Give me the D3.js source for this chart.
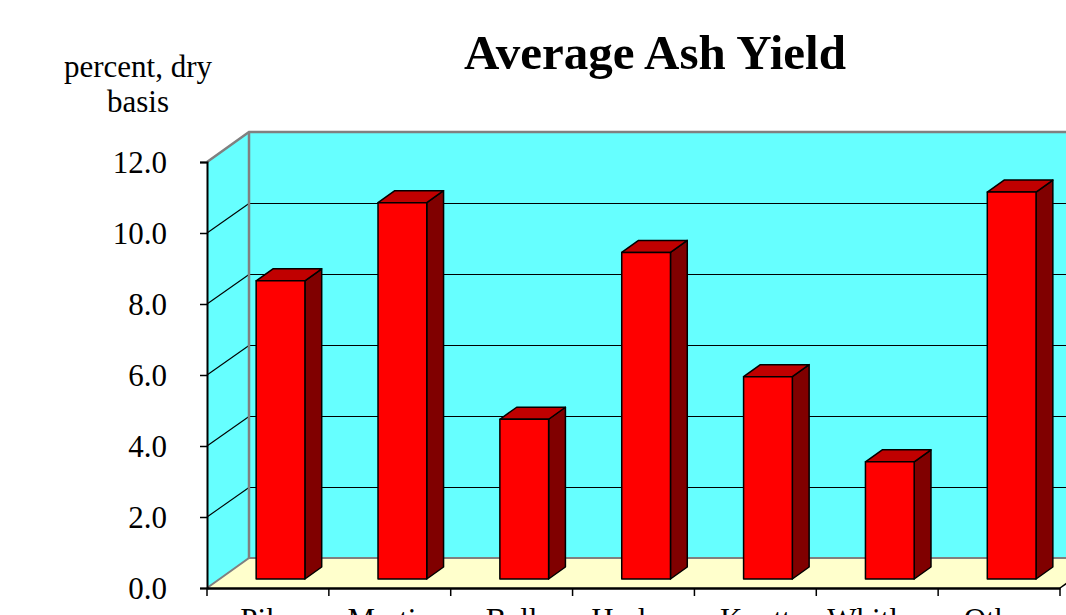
<!DOCTYPE html>
<html><head><meta charset="utf-8">
<script src="https://cdn.jsdelivr.net/npm/d3@7"></script>
<style>
html,body{margin:0;padding:0;background:#fff;overflow:hidden;}
svg text{font-family:"Liberation Serif","Times New Roman",serif;fill:#000;}
</style></head>
<body><svg id="c" width="1066" height="615"></svg>
<script>
const categories = ["Pike", "Martin", "Bell", "Harlan", "Knott", "Whitley", "Other"];
const ashYield = [8.4, 10.6, 4.5, 9.2, 5.7, 3.3, 10.9];
const yTicks = [0, 2, 4, 6, 8, 10, 12];
const titleText = "Average Ash Yield";
const yLabelLines = ["percent, dry", "basis"];

const svg = d3.select("#c");
const x = d3.scaleBand().domain(categories).range([207, 1060]).paddingInner(0).paddingOuter(0);
const y = d3.scaleLinear().domain([0, 12]).range([588, 162]);
const DX = 42, DY = -30; // full depth offset
const x0 = x.range()[0], x1 = x.range()[1];
const yb = y(0), yt = y(12);

// walls
svg.append("polygon").attr("points", [[x0, yt], [x0+DX, yt+DY], [x0+DX, yb+DY], [x0, yb]].join(" "))
  .attr("fill", "#66FFFF");
svg.append("polygon").attr("points", [[x0+DX, yt+DY], [1120, yt+DY], [1120, yb+DY], [x0+DX, yb+DY]].join(" "))
  .attr("fill", "#66FFFF");
svg.append("polygon").attr("points", [[x0, yb], [x0+DX, yb+DY], [x1+DX, yb+DY], [x1, yb]].join(" "))
  .attr("fill", "#FFFFCC");

// gridlines
const g = svg.append("g");
yTicks.filter(t => t > 0 && t < 12).forEach(t => {
  const yy = Math.round(y(t) + DY) + 0.5;
  g.append("line").attr("x1", x0).attr("y1", y(t)).attr("x2", x0+DX).attr("y2", yy)
    .attr("stroke", "#000").attr("stroke-width", 1.1);
  g.append("line").attr("x1", x0+DX).attr("y1", yy).attr("x2", 1120).attr("y2", yy)
    .attr("stroke", "#000").attr("stroke-width", 1).attr("shape-rendering", "crispEdges");
});

// gray edges
const edge = "#808080";
svg.append("polyline").attr("points", [[x0, yt], [x0+DX, yt+DY], [1120, yt+DY]].join(" "))
  .attr("fill", "none").attr("stroke", edge).attr("stroke-width", 2.5);
svg.append("polyline").attr("points", [[x0, yb], [x0+DX, yb+DY], [1120, yb+DY]].join(" "))
  .attr("fill", "none").attr("stroke", edge).attr("stroke-width", 2);
svg.append("line").attr("x1", x0+DX).attr("y1", yt+DY).attr("x2", x0+DX).attr("y2", yb+DY)
  .attr("stroke", edge).attr("stroke-width", 2.5);
svg.append("line").attr("x1", x1).attr("y1", yb).attr("x2", x1+DX).attr("y2", yb+DY)
  .attr("stroke", "#000").attr("stroke-width", 1.5);

// bars
const bw = x.bandwidth() * 0.4;
const zf = 0.3, zb = 0.7;
const bars = svg.append("g");
categories.forEach((c, i) => {
  const v = ashYield[i];
  const L = x(c) + (x.bandwidth() - bw) / 2 + DX * zf;
  const R = L + bw;
  const B = y(0) + DY * zf;
  const T = y(v) + DY * zf;
  const ox = DX * (zb - zf), oy = DY * (zb - zf);
  const bg = bars.append("g").attr("stroke", "#000").attr("stroke-width", 1.5).attr("stroke-linejoin", "round");
  bg.append("polygon").attr("points", [[R, T], [R+ox, T+oy], [R+ox, B+oy], [R, B]].join(" ")).attr("fill", "#800000");
  bg.append("polygon").attr("points", [[L, T], [L+ox, T+oy], [R+ox, T+oy], [R, T]].join(" ")).attr("fill", "#C00000");
  bg.append("rect").attr("x", L).attr("y", T).attr("width", bw).attr("height", B - T).attr("fill", "#FF0000");
});

// axes
const ya = svg.append("g").attr("transform", `translate(${x0},0)`)
  .call(d3.axisLeft(y).tickValues(yTicks).tickFormat(d3.format(".1f")).tickSizeOuter(0).tickSize(7).tickPadding(33));
ya.select(".domain").attr("stroke", "#000").attr("stroke-width", 2);
ya.selectAll(".tick line").attr("stroke", "#000").attr("stroke-width", 1.5);
ya.selectAll("text").attr("font-size", 31).attr("dy", "0.35em")
  .style("font-family", '"Liberation Serif","Times New Roman",serif');

const xa = svg.append("g").attr("transform", `translate(0,${yb})`)
  .call(d3.axisBottom(x).tickSize(0).tickSizeOuter(0).tickPadding(20));
xa.select(".domain").attr("stroke", "#000").attr("stroke-width", 2.5);
xa.selectAll("text").attr("font-size", 31).attr("dy", "0.71em")
  .style("font-family", '"Liberation Serif","Times New Roman",serif');
// boundary ticks
const bounds = categories.map(c => x(c)).concat([x1]);
svg.append("g").selectAll("line").data(bounds).join("line")
  .attr("x1", d => d).attr("x2", d => d).attr("y1", yb).attr("y2", yb + 8)
  .attr("stroke", "#000").attr("stroke-width", 1.5);

// title
svg.append("text").attr("x", 655).attr("y", 69).attr("text-anchor", "middle")
  .attr("font-size", 49).attr("font-weight", "bold").text(titleText);
// y label
svg.append("text").attr("x", 138).attr("y", 77).attr("text-anchor", "middle").attr("font-size", 31)
  .selectAll("tspan").data(yLabelLines).join("tspan")
  .attr("x", 138).attr("dy", (d, i) => i ? 35 : 0).text(d => d);
</script></body></html>
